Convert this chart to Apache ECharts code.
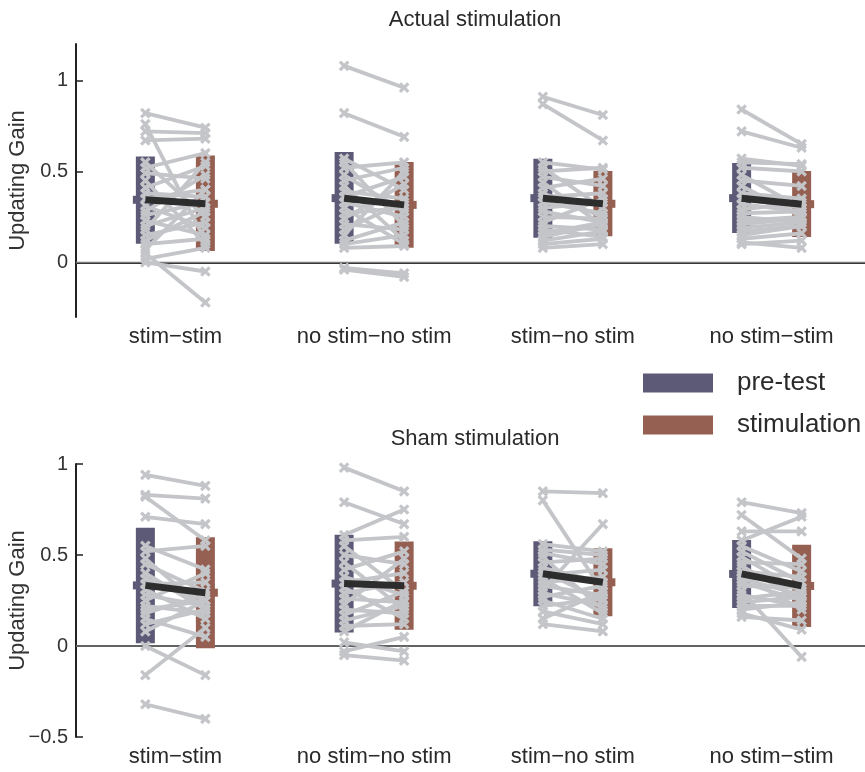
<!DOCTYPE html>
<html><head><meta charset="utf-8">
<script src="https://cdn.jsdelivr.net/npm/echarts@6/dist/echarts.min.js"></script>
<style>html,body{margin:0;padding:0;background:#fff}#c{width:865px;height:772px}</style>
</head><body><div id="c"></div>
<script>
// ---------- data ----------
const categories = ['stim\u2212stim', 'no stim\u2212no stim', 'stim\u2212no stim', 'no stim\u2212stim'];
const seriesNames = ['pre-test', 'stimulation'];
const panelTitles = ['Actual stimulation', 'Sham stimulation'];
const yTicksTop = [0, 0.5, 1];
const yTicksBottom = [-0.5, 0, 0.5, 1];

// Actual stimulation: bar = [low, high], mean
const actualPreMean  = [0.344, 0.353, 0.353, 0.353];
const actualPreLow   = [0.103, 0.103, 0.136, 0.161];
const actualPreHigh  = [0.582, 0.606, 0.570, 0.546];
const actualStimMean = [0.322, 0.316, 0.322, 0.320];
const actualStimLow  = [0.062, 0.081, 0.143, 0.139];
const actualStimHigh = [0.588, 0.551, 0.502, 0.502];

// Sham stimulation
const shamPreMean  = [0.333, 0.343, 0.397, 0.396];
const shamPreLow   = [0.015, 0.074, 0.219, 0.209];
const shamPreHigh  = [0.650, 0.611, 0.576, 0.583];
const shamStimMean = [0.293, 0.331, 0.350, 0.330];
const shamStimLow  = [-0.013, 0.089, 0.163, 0.104];
const shamStimHigh = [0.598, 0.574, 0.537, 0.556];

// individual subjects (pre -> stimulation), per condition
const actualPre = [
  [0.82,0.76,0.72,0.67,0.55,0.52,0.49,0.45,0.41,0.38,0.35,0.31,0.28,0.26,0.23,0.20,0.18,0.15,0.12,0.10,0.07,0.05,0.02,0.00],
  [1.08,0.82,0.57,0.55,0.52,0.48,0.45,0.42,0.39,0.36,0.33,0.30,0.27,0.24,0.21,0.18,0.15,0.12,0.10,0.08,-0.03,-0.04],
  [0.91,0.87,0.55,0.52,0.50,0.47,0.44,0.41,0.38,0.36,0.33,0.30,0.28,0.25,0.22,0.20,0.18,0.16,0.14,0.12,0.10,0.08],
  [0.84,0.72,0.57,0.55,0.52,0.48,0.45,0.42,0.38,0.35,0.32,0.29,0.27,0.25,0.23,0.21,0.19,0.17,0.15,0.13,0.11,0.10]
];
const actualStim = [
  [0.74,0.12,0.71,0.68,0.25,0.60,0.46,0.10,0.53,0.36,0.40,0.19,0.48,0.33,0.15,0.30,0.55,0.22,0.28,0.13,0.40,-0.22,0.08,-0.05],
  [0.96,0.69,0.40,0.20,0.55,0.28,0.52,0.12,0.35,0.47,0.25,0.10,0.30,0.43,0.18,0.33,0.50,0.22,0.15,0.09,-0.06,-0.08],
  [0.81,0.67,0.51,0.30,0.52,0.42,0.20,0.46,0.25,0.38,0.27,0.33,0.22,0.24,0.35,0.18,0.14,0.22,0.21,0.17,0.13,0.10],
  [0.65,0.63,0.53,0.54,0.50,0.30,0.42,0.25,0.35,0.30,0.28,0.33,0.28,0.22,0.25,0.24,0.22,0.20,0.20,0.16,0.08,0.12]
];
const shamPre = [
  [0.94,0.83,0.82,0.71,0.55,0.52,0.48,0.45,0.40,0.37,0.34,0.31,0.28,0.25,0.22,0.20,0.18,0.15,0.12,0.08,0.00,-0.16,-0.32],
  [0.98,0.79,0.61,0.58,0.55,0.50,0.46,0.42,0.38,0.35,0.32,0.29,0.26,0.23,0.20,0.17,0.14,0.11,0.08,0.02,-0.03,-0.05],
  [0.85,0.80,0.56,0.53,0.51,0.49,0.46,0.43,0.41,0.39,0.37,0.35,0.33,0.31,0.29,0.27,0.25,0.22,0.19,0.15,0.12],
  [0.79,0.72,0.63,0.58,0.55,0.52,0.49,0.46,0.44,0.41,0.39,0.37,0.35,0.33,0.30,0.28,0.26,0.24,0.22,0.20,0.18,0.16]
];
const shamStim = [
  [0.88,0.81,0.58,0.67,0.42,0.55,0.20,0.30,0.20,0.25,0.35,0.15,0.22,0.40,0.18,0.25,0.28,0.05,0.20,0.25,-0.16,0.10,-0.40],
  [0.85,0.67,0.75,0.60,0.30,0.45,0.20,0.52,0.28,0.40,0.15,0.35,0.24,0.48,0.18,0.30,0.22,0.12,0.25,-0.03,0.05,-0.08],
  [0.84,0.30,0.52,0.50,0.45,0.20,0.48,0.35,0.25,0.42,0.18,0.38,0.28,0.67,0.22,0.33,0.15,0.26,0.12,0.30,0.08],
  [0.73,0.48,0.63,0.71,0.41,0.35,0.30,0.45,0.25,0.38,0.20,0.28,0.25,0.32,-0.06,0.22,0.30,0.27,0.22,0.24,0.09,0.14]
];

// ---------- style ----------
const PRE_COLOR = '#5d5a78';
const STIM_COLOR = '#956052';
const GRAY = '#c4c5c8';
const MEAN_COLOR = '#2d2d2d';
const AXIS_COLOR = '#222';
const TEXT_COLOR = '#2a2a2a';
const FONT = 'Liberation Sans, Arial, sans-serif';
const PRE_OFF = -0.151, STIM_OFF = 0.151;

function barRender(off, side) {
  return function (params, api) {
    const g = api.value(0), lo = api.value(1), hi = api.value(2), m = api.value(3);
    const x = g + 0.5 + off;
    const pHi = api.coord([x, hi]), pLo = api.coord([x, lo]), pM = api.coord([x, m]);
    const w = 19, tw = 12.5;
    const color = api.visual('color');
    const tabX = side < 0 ? pM[0] - tw : pM[0];
    return { type: 'group', children: [
      { type: 'rect', shape: { x: pHi[0] - w / 2, y: pHi[1], width: w, height: pLo[1] - pHi[1] }, style: { fill: color } },
      { type: 'rect', shape: { x: tabX, y: pM[1] - 4, width: tw, height: 8 }, style: { fill: color } }
    ]};
  };
}
function subjRender(params, api) {
  const g = api.value(0);
  const a = api.coord([g + 0.5 + PRE_OFF, api.value(1)]);
  const b = api.coord([g + 0.5 + STIM_OFF, api.value(2)]);
  const s = 4.2, st = { stroke: GRAY, lineWidth: 3.2 };
  const cross = p => [
    { type: 'line', shape: { x1: p[0] - s, y1: p[1] - s, x2: p[0] + s, y2: p[1] + s }, style: st },
    { type: 'line', shape: { x1: p[0] - s, y1: p[1] + s, x2: p[0] + s, y2: p[1] - s }, style: st }
  ];
  return { type: 'group', children: [
    { type: 'line', shape: { x1: a[0], y1: a[1], x2: b[0], y2: b[1] }, style: { stroke: GRAY, lineWidth: 3.8 } },
    ...cross(a), ...cross(b)
  ]};
}
function meanRender(params, api) {
  const g = api.value(0);
  const a = api.coord([g + 0.5 + PRE_OFF, api.value(1)]);
  const b = api.coord([g + 0.5 + STIM_OFF, api.value(2)]);
  return { type: 'line', shape: { x1: a[0], y1: a[1], x2: b[0], y2: b[1] }, style: { stroke: MEAN_COLOR, lineWidth: 7, lineCap: 'butt' } };
}

function barData(lo, hi, m) { return categories.map((c, g) => [g, lo[g], hi[g], m[g]]); }
function subjData(pre, stim) {
  const out = [];
  pre.forEach((arr, g) => arr.forEach((v, i) => out.push([g, v, stim[g][i]])));
  return out;
}
function meanData(pm, sm) { return categories.map((c, g) => [g, pm[g], sm[g]]); }

function fmt(v) { return v < 0 ? '\u2212' + String(-v) : String(v); }

const panels = [
  { top: 44, min: -0.3, max: 1.2, ticks: yTicksTop,
    pm: actualPreMean, pl: actualPreLow, ph: actualPreHigh, sm: actualStimMean, sl: actualStimLow, sh: actualStimHigh,
    pre: actualPre, stim: actualStim },
  { top: 464, min: -0.5, max: 1.0, ticks: yTicksBottom,
    pm: shamPreMean, pl: shamPreLow, ph: shamPreHigh, sm: shamStimMean, sl: shamStimLow, sh: shamStimHigh,
    pre: shamPre, stim: shamStim }
];

const grid = [], xAxis = [], yAxis = [], series = [];
panels.forEach((p, k) => {
  grid.push({ left: 76, top: p.top, width: 795, height: 273, containLabel: false, outerBoundsMode: 'none' });
  xAxis.push({ type: 'category', gridIndex: k, data: categories,
    axisLine: { lineStyle: { color: AXIS_COLOR, width: 2 } }, axisTick: { show: false },
    axisLabel: { interval: 0, hideOverlap: false, fontSize: 22, color: TEXT_COLOR, fontFamily: FONT, margin: 9 } });
  xAxis.push({ type: 'value', gridIndex: k, min: 0, max: 4, show: false });
  yAxis.push({ type: 'value', gridIndex: k, min: p.min, max: p.max,
    name: 'Updating Gain', nameLocation: 'middle', nameGap: 47, nameRotate: 90, nameMoveOverlap: false,
    nameTextStyle: { fontSize: 22, color: '#333', fontFamily: FONT },
    axisLine: { show: true, lineStyle: { color: AXIS_COLOR, width: 2 } },
    axisTick: { show: true, inside: true, length: 7, customValues: p.ticks, lineStyle: { color: AXIS_COLOR, width: 1.5 } },
    axisLabel: { customValues: p.ticks, formatter: fmt, fontSize: 20, color: '#333', fontFamily: FONT, margin: 8 },
    splitLine: { show: false } });
  const xi = 2 * k + 1;
  series.push({ type: 'line', xAxisIndex: xi, yAxisIndex: k, data: [[0, 0], [4, 0]], symbol: 'none', silent: true,
    lineStyle: { color: '#7a7a7a', width: 1.5 }, z: 1 });
  series.push({ type: 'custom', name: seriesNames[0], xAxisIndex: xi, yAxisIndex: k, renderItem: barRender(PRE_OFF, -1),
    itemStyle: { color: PRE_COLOR }, data: barData(p.pl, p.ph, p.pm), z: 2 });
  series.push({ type: 'custom', name: seriesNames[1], xAxisIndex: xi, yAxisIndex: k, renderItem: barRender(STIM_OFF, 1),
    itemStyle: { color: STIM_COLOR }, data: barData(p.sl, p.sh, p.sm), z: 2 });
  series.push({ type: 'custom', name: 'subjects', xAxisIndex: xi, yAxisIndex: k, renderItem: subjRender,
    data: subjData(p.pre, p.stim), z: 3, silent: true });
  series.push({ type: 'custom', name: 'mean', xAxisIndex: xi, yAxisIndex: k, renderItem: meanRender,
    data: meanData(p.pm, p.sm), z: 4, silent: true });
});

const chart = echarts.init(document.getElementById('c'), null, { renderer: 'canvas' });
chart.setOption({
  animation: false,
  backgroundColor: '#fff',
  textStyle: { fontFamily: FONT },
  grid, xAxis, yAxis, series,
  legend: { data: seriesNames, orient: 'vertical', left: 643, top: 370, padding: 0, itemWidth: 70, itemHeight: 19, itemGap: 16,
    icon: 'rect', selectedMode: false,
    textStyle: { fontSize: 26, color: TEXT_COLOR, fontFamily: FONT, padding: [0, 0, 0, 19] } },
  graphic: [
    { type: 'text', x: 475, y: 20, style: { text: panelTitles[0], fill: TEXT_COLOR, font: '22px ' + FONT, align: 'center', verticalAlign: 'middle' } },
    { type: 'text', x: 475, y: 439, style: { text: panelTitles[1], fill: TEXT_COLOR, font: '22px ' + FONT, align: 'center', verticalAlign: 'middle' } }
  ]
});
</script></body></html>
